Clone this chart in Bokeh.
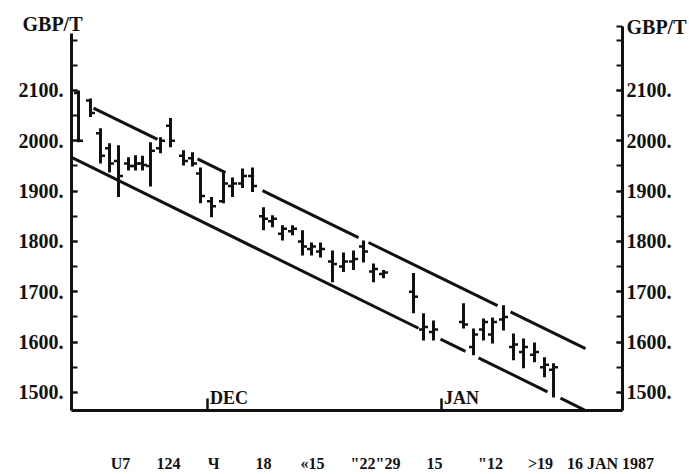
from bokeh.plotting import figure
from bokeh.models import Range1d, LinearAxis, FixedTicker, CustomJSTickFormatter, Title
from bokeh.core.properties import value
from bokeh.embed import file_html
from bokeh.resources import INLINE

# ---- data (x = trading-day position, y = GBP/T) ----
bar_x = [0.7, 1.9, 2.9, 3.8, 4.7, 5.7, 6.4, 7.1, 7.9, 8.9, 9.9, 11.2, 12.1, 12.9, 14.0,
         15.2, 16.1, 17.1, 18.1, 19.2, 20.1, 21.1, 22.1, 23.1, 24.0, 24.9, 26.1, 27.2,
         28.2, 29.2, 30.2, 31.2, 34.2, 35.2, 36.2, 39.2, 40.2, 41.2, 42.1, 43.2, 44.2,
         45.2, 46.3, 47.3, 48.2]
high = [2100, 2084, 2025, 1995, 1991, 1967, 1971, 1970, 1997, 2007, 2045, 1981, 1977, 1947, 1888,
        1937, 1927, 1945, 1947, 1868, 1852, 1832, 1832, 1822, 1798, 1798, 1782, 1778,
        1782, 1802, 1756, 1743, 1737, 1657, 1643, 1677, 1627, 1647, 1649, 1673, 1617,
        1607, 1599, 1570, 1558]
low = [1997, 2047, 1955, 1937, 1888, 1941, 1941, 1941, 1909, 1975, 1987, 1951, 1949, 1876, 1848,
       1876, 1888, 1906, 1898, 1822, 1828, 1802, 1812, 1772, 1772, 1768, 1719, 1739,
       1743, 1758, 1719, 1727, 1657, 1603, 1603, 1627, 1574, 1603, 1597, 1623, 1564,
       1548, 1560, 1530, 1490]
open_ = [2095, 2080, 2015, 1985, 1960, 1955, 1950, 1955, 1950, 1985, 2030, 1970, 1965, 1935, 1880,
         1880, 1910, 1915, 1930, 1850, 1840, 1815, 1820, 1800, 1785, 1780, 1760, 1750,
         1760, 1790, 1740, 1735, 1700, 1625, 1620, 1640, 1590, 1625, 1615, 1645, 1590,
         1580, 1575, 1550, 1545]
close = [2000, 2055, 1970, 1955, 1930, 1950, 1955, 1952, 1980, 2000, 2000, 1960, 1955, 1890, 1870,
         1915, 1915, 1930, 1910, 1845, 1845, 1825, 1825, 1790, 1790, 1785, 1755, 1760,
         1765, 1780, 1745, 1738, 1690, 1630, 1625, 1635, 1615, 1640, 1640, 1650, 1595,
         1590, 1580, 1555, 1550]

# trend channel (end points) and the visible pieces of each line
upper_x = [2.2, 51.4]
upper_y = [2065, 1587]
upper_pieces = [(2.2, 8.6), (12.6, 15.4), (19.1, 28.7), (29.7, 42.6), (43.9, 51.4)]
lower_x = [0.0, 51.4]
lower_y = [1967, 1464]
lower_pieces = [(0.0, 34.7), (36.9, 39.4), (40.7, 47.6), (48.9, 51.4)]

date_x = [4.9, 9.7, 14.2, 19.2, 24.1, 30.4, 36.3, 41.9, 46.9, 53.9]
date_labels = ["U7", "124", "Ч", "18", "«15", "\"22\"29", "15", "\"12", ">19", "16 JAN 1987"]
month_x = [13.6, 37.0]
month_labels = ["DEC", "JAN"]
price_ticks = list(range(1500, 2101, 100))
price_minor = list(range(1500, 2201, 50))
unit_label = "GBP/T"
unit_level = 2227          # where the right-hand unit label sits on the price scale

FONT = value("Liberation Serif")
INK = "#111111"
X0, X1 = 0, 55.1
Y0, Y1 = 1464, 2231


def line_at(xs, ys, x):
    return ys[0] + (x - xs[0]) * (ys[1] - ys[0]) / (xs[1] - xs[0])


p = figure(width=689, height=474, x_range=Range1d(X0, X1), y_range=Range1d(Y0, Y1),
           x_axis_type=None, y_axis_type=None, output_backend="svg", toolbar_location=None,
           min_border_left=71, min_border_right=67, min_border_top=24, min_border_bottom=64)
p.outline_line_color = None
p.background_fill_color = "white"
p.border_fill_color = "white"

# left unit label (above the left axis)
p.add_layout(Title(text=unit_label, align="left", offset=-49, standoff=-21,
                   vertical_align="bottom",
                   text_font="Liberation Serif", text_font_style="bold",
                   text_font_size="20px", text_color=INK), "above")


def style_axis(ax, standoff):
    ax.axis_line_width = 3
    ax.axis_line_color = INK
    ax.major_tick_line_color = INK
    ax.minor_tick_line_color = INK
    ax.major_tick_line_width = 2
    ax.minor_tick_line_width = 2
    ax.major_label_text_font = "Liberation Serif"
    ax.major_label_text_font_style = "bold"
    ax.major_label_text_color = INK
    ax.major_label_standoff = standoff


price_fmt = CustomJSTickFormatter(args=dict(unit=unit_label, lvl=unit_level),
                                  code="return tick == lvl ? unit : tick.toFixed(0) + '.';")

left = LinearAxis(ticker=FixedTicker(ticks=price_ticks, minor_ticks=price_minor),
                  formatter=price_fmt, bounds=(Y0, 2213))
right = LinearAxis(ticker=FixedTicker(ticks=price_ticks + [unit_level], minor_ticks=price_minor),
                   formatter=price_fmt, bounds=(Y0, unit_level))
for ax, side, standoff in ((left, "left", 8), (right, "right", 4)):
    style_axis(ax, standoff)
    ax.major_tick_in = 6
    ax.major_tick_out = 0
    ax.minor_tick_in = 6
    ax.minor_tick_out = 0
    ax.major_label_text_font_size = "20px"
    p.add_layout(ax, side)

xax = LinearAxis(ticker=FixedTicker(ticks=date_x, minor_ticks=month_x),
                 major_label_overrides={x: t for x, t in zip(date_x, date_labels)})
style_axis(xax, 44)
xax.major_tick_in = 0
xax.major_tick_out = 0
xax.minor_tick_in = 12
xax.minor_tick_out = 0
xax.minor_tick_line_width = 2.5
xax.major_label_text_font_size = "16px"
p.add_layout(xax, "below")

# channel lines
for xs, ys, pieces in ((upper_x, upper_y, upper_pieces), (lower_x, lower_y, lower_pieces)):
    p.segment(x0=[a for a, b in pieces], y0=[line_at(xs, ys, a) for a, b in pieces],
              x1=[b for a, b in pieces], y1=[line_at(xs, ys, b) for a, b in pieces],
              line_width=3, line_color=INK)

# OHLC bars
p.segment(x0=bar_x, y0=low, x1=bar_x, y1=high, line_width=3, line_color=INK)
p.segment(x0=[x - 0.45 for x in bar_x], y0=open_, x1=bar_x, y1=open_, line_width=2.5, line_color=INK)
p.segment(x0=bar_x, y0=close, x1=[x + 0.45 for x in bar_x], y1=close, line_width=2.5, line_color=INK)

# month names above the bottom axis
p.text(x=[m + 0.25 for m in month_x], y=[Y0] * len(month_x), text=month_labels,
       text_font=FONT, text_font_style="bold", text_font_size="18px", text_color=INK,
       text_baseline="bottom", text_align="left", y_offset=-3)

open("out.html", "w").write(file_html(p, INLINE))
